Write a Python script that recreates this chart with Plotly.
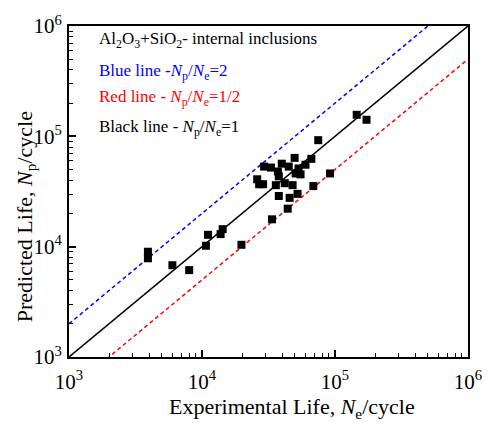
import plotly.graph_objects as go

# Experimental life Ne (cycles) and predicted life Np (cycles)
exp_life = [1.456e5, 1.726e5, 7.48e4, 4.97e4, 6.64e4, 6.0e4, 3.98e4, 4.49e4, 2.93e4, 3.30e4,
            5.32e4, 3.72e4, 5.06e4, 5.51e4, 2.60e4, 2.69e4, 2.88e4, 3.78e4, 4.19e4, 3.59e4,
            4.80e4, 9.18e4, 6.87e4, 3.78e4, 4.56e4, 5.23e4, 4.41e4, 3.36e4,
            3.92e3, 3.92e3, 5.99e3, 8.01e3, 1.07e4, 1.11e4, 1.38e4, 1.43e4, 1.98e4]
pred_life = [1.567e5, 1.413e5, 9.23e4, 6.38e4, 6.25e4, 5.53e4, 5.65e4, 5.32e4, 5.32e4, 5.21e4,
             5.11e4, 4.80e4, 4.61e4, 4.52e4, 4.08e4, 3.68e4, 3.68e4, 4.34e4, 3.76e4, 3.61e4,
             3.61e4, 4.61e4, 3.54e4, 2.88e4, 2.77e4, 3.01e4, 2.21e4, 1.77e4,
             9.0e3, 7.85e3, 6.79e3, 6.13e3, 1.02e4, 1.28e4, 1.30e4, 1.44e4, 1.04e4]

line_x = [1e3, 1e6]
ratios = [1, 2, 0.5]
ratio_colors = ["black", "#0000FF", "#FF0000"]
ratio_dash = ["solid", "4px,3px", "4px,3px"]

major_ticks = [1e3, 1e4, 1e5, 1e6]
major_text = ["10<sup>3</sup>", "10<sup>4</sup>", "10<sup>5</sup>", "10<sup>6</sup>"]
minor_ticks = [m * 10 ** e for e in (3, 4, 5) for m in range(2, 10)]

FONT = "'Liberation Serif', 'Times New Roman', Times, serif"

fig = go.Figure()
for r, c, d in zip(ratios, ratio_colors, ratio_dash):
    fig.add_trace(go.Scatter(x=line_x, y=[v * r for v in line_x], mode="lines",
                             line=dict(color=c, width=1.5, dash=d), showlegend=False,
                             hoverinfo="skip"))
fig.add_trace(go.Scatter(x=exp_life, y=pred_life, mode="markers",
                         marker=dict(symbol="square", size=8, color="black"),
                         showlegend=False))

axis_common = dict(
    type="log", showgrid=False, zeroline=False,
    showline=True, linecolor="black", linewidth=2, mirror=True,
    ticks="inside", ticklen=7, tickwidth=1.5, tickcolor="black",
    tickvals=major_ticks, ticktext=major_text,
    tickfont=dict(family=FONT, size=21, color="black"),
    minor=dict(tickvals=minor_ticks, ticks="inside", ticklen=4, tickwidth=1, tickcolor="black",
               showgrid=False),
)
fig.update_xaxes(range=[3, 6], ticklabelstandoff=5, **axis_common)
fig.update_yaxes(range=[3, 6], ticklabelstandoff=1, **axis_common)

annots = [
    ("Al<sub>2</sub>O<sub>3</sub>+SiO<sub>2</sub>- internal inclusions", "black", 0.958),
    ("Blue line -<i>N</i><sub>p</sub>/<i>N</i><sub>e</sub>=2", "#0000FF", 0.860),
    ("Red line - <i>N</i><sub>p</sub>/<i>N</i><sub>e</sub>=1/2", "#FF0000", 0.781),
    ("Black line - <i>N</i><sub>p</sub>/<i>N</i><sub>e</sub>=1", "black", 0.692),
]
for txt, col, yy in annots:
    fig.add_annotation(text=txt, x=0.069, y=yy, xref="paper", yref="paper",
                       xanchor="left", yanchor="middle", showarrow=False,
                       font=dict(family=FONT, size=17, color=col))

fig.add_annotation(text="Experimental Life, <i>N</i><sub>e</sub>/cycle", x=0.558, y=-0.153,
                   xref="paper", yref="paper", xanchor="center", yanchor="middle",
                   showarrow=False, font=dict(family=FONT, size=22, color="black"))
fig.add_annotation(text="Predicted Life, <i>N</i><sub>p</sub>/cycle", x=-0.108, y=0.425,
                   xref="paper", yref="paper", xanchor="center", yanchor="middle",
                   textangle=-90, showarrow=False,
                   font=dict(family=FONT, size=22, color="black"))

fig.update_layout(width=494, height=430, margin=dict(l=69, r=20, t=18, b=73),
                  plot_bgcolor="white", paper_bgcolor="white",
                  font=dict(family=FONT))
fig.write_html("out.html")
